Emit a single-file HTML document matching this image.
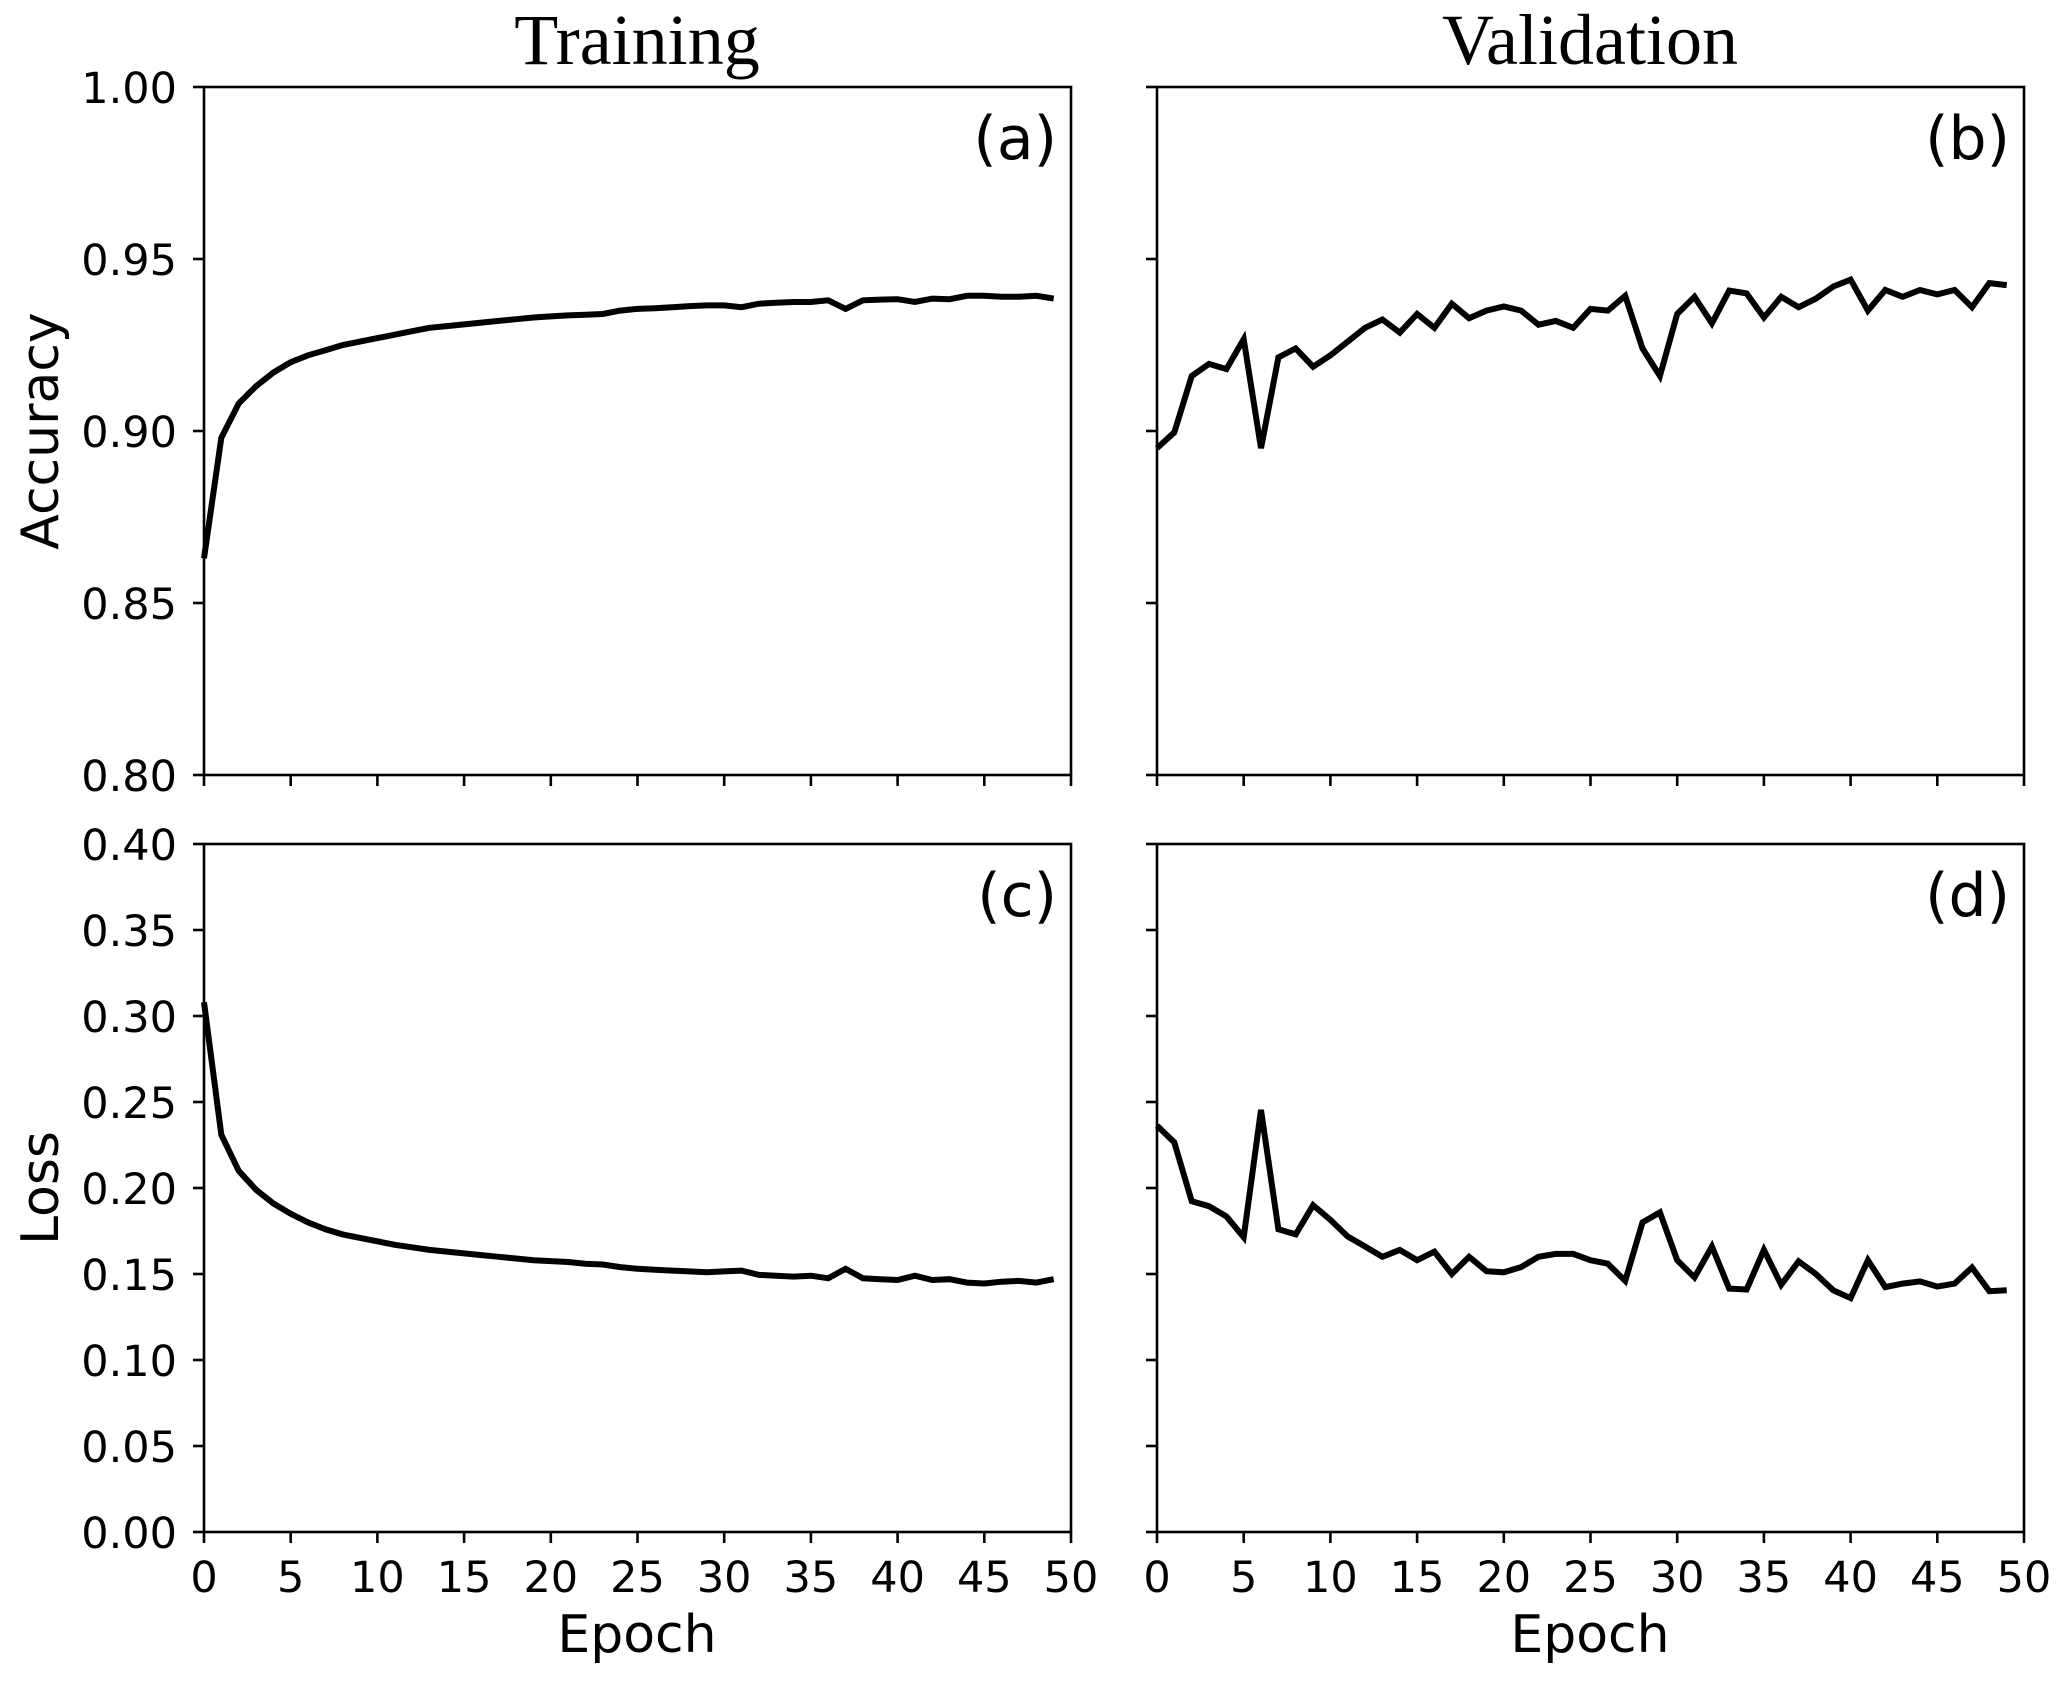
<!DOCTYPE html>
<html><head><meta charset="utf-8"><style>
html,body{margin:0;padding:0;background:#fff;}
svg{display:block;}
text{fill:#000;}
.tk{font-family:"DejaVu Sans","Liberation Sans",sans-serif;font-size:43px;}
.lb{font-family:"DejaVu Sans","Liberation Sans",sans-serif;font-size:52px;}
.pl{font-family:"DejaVu Sans","Liberation Sans",sans-serif;font-size:60px;}
.tt{font-family:"Liberation Serif",serif;font-size:72px;}
</style></head><body>
<svg id="fig" width="2067" height="1681" viewBox="0 0 2067 1681" xmlns="http://www.w3.org/2000/svg"></svg>
<script>
const epochs = Array.from({length:50},(_, i)=>i);
const trainAcc = [0.863,0.898,0.908,0.913,0.917,0.920,0.922,0.9235,0.925,0.926,0.927,0.928,0.929,0.930,0.9305,0.931,0.9315,0.932,0.9325,0.933,0.9333,0.9336,0.9338,0.934,0.935,0.9355,0.9357,0.936,0.9363,0.9365,0.9365,0.936,0.937,0.9373,0.9375,0.9375,0.938,0.9355,0.938,0.9382,0.9383,0.9375,0.9385,0.9383,0.9393,0.9393,0.939,0.939,0.9393,0.9385];
const valAcc = [0.895,0.8996,0.916,0.9195,0.918,0.9267,0.895,0.9214,0.924,0.9187,0.922,0.926,0.930,0.9324,0.9286,0.934,0.930,0.937,0.9328,0.935,0.9362,0.935,0.9309,0.932,0.930,0.9355,0.935,0.9393,0.924,0.916,0.934,0.939,0.9313,0.9408,0.940,0.933,0.939,0.936,0.9385,0.942,0.944,0.935,0.941,0.939,0.941,0.9397,0.941,0.936,0.943,0.9424];
const trainLoss = [0.308,0.231,0.21,0.199,0.191,0.185,0.180,0.176,0.173,0.171,0.169,0.167,0.1655,0.164,0.163,0.162,0.161,0.160,0.159,0.158,0.1575,0.157,0.156,0.1555,0.154,0.153,0.1525,0.152,0.1515,0.151,0.1515,0.152,0.1495,0.149,0.1485,0.149,0.1475,0.153,0.1475,0.147,0.1465,0.149,0.1465,0.147,0.145,0.1445,0.1455,0.146,0.145,0.147];
const valLoss = [0.2363,0.2265,0.1923,0.1894,0.1835,0.1714,0.2454,0.176,0.173,0.190,0.1815,0.1718,0.166,0.160,0.164,0.158,0.163,0.150,0.160,0.1516,0.151,0.154,0.160,0.1617,0.1617,0.158,0.156,0.146,0.180,0.1858,0.158,0.148,0.166,0.1415,0.141,0.164,0.1437,0.1574,0.150,0.1405,0.136,0.158,0.1424,0.1444,0.1457,0.1427,0.1444,0.1538,0.140,0.1405];
const xTicks = [0,5,10,15,20,25,30,35,40,45,50];
const accTicks = ["0.80","0.85","0.90","0.95","1.00"];
const lossTicks = ["0.00","0.05","0.10","0.15","0.20","0.25","0.30","0.35","0.40"];

const NS="http://www.w3.org/2000/svg";
const svg=document.getElementById('fig');
function mk(tag,attrs,parent,txt){const e=document.createElementNS(NS,tag);for(const k in attrs)e.setAttribute(k,attrs[k]);if(txt!==undefined)e.textContent=txt;(parent||svg).appendChild(e);return e;}

const cols=[{x0:204,x1:1071},{x0:1157,x1:2024}];
const rows=[{y0:87,y1:775,min:0.8,max:1.0,ticks:accTicks},{y0:844,y1:1532,min:0,max:0.4,ticks:lossTicks}];
const panels=[
 {r:0,c:0,data:trainAcc,tag:"(a)",name:"training-accuracy"},
 {r:0,c:1,data:valAcc,tag:"(b)",name:"validation-accuracy"},
 {r:1,c:0,data:trainLoss,tag:"(c)",name:"training-loss"},
 {r:1,c:1,data:valLoss,tag:"(d)",name:"validation-loss"}];

panels.forEach(p=>{
  const R=rows[p.r],C=cols[p.c];
  const xs=v=>C.x0+(v-0)/(50-0)*(C.x1-C.x0);
  const ys=v=>R.y1-(v-R.min)/(R.max-R.min)*(R.y1-R.y0);
  const g=mk('g',{});
  
  
  const d=epochs.map((e,i)=>(i?'L':'M')+xs(e).toFixed(1)+' '+ys(p.data[i]).toFixed(1)).join(' ');
  const path=mk('path',{d:d,fill:'none',stroke:'#000','stroke-width':6,'stroke-linejoin':'miter','stroke-linecap':'butt'},g);
  
  
  const fr=mk('rect',{x:C.x0,y:R.y0,width:C.x1-C.x0,height:R.y1-R.y0,fill:'none',stroke:'#000','stroke-width':2.6},g);
  
  
  xTicks.forEach(t=>{
    const x=xs(t);
    mk('line',{x1:x,x2:x,y1:R.y1,y2:R.y1+11,stroke:'#000','stroke-width':2.6},g);
    if(p.r===1){
      const tl=mk('text',{x:x,y:1592,'text-anchor':'middle',class:'tk'},g,String(t));
      
      
    }
  });
  R.ticks.forEach(s=>{
    const y=ys(parseFloat(s));
    mk('line',{x1:C.x0-11,x2:C.x0,y1:y,y2:y,stroke:'#000','stroke-width':2.6},g);
    if(p.c===0){
      const tl=mk('text',{x:177,y:y+16,'text-anchor':'end',class:'tk'},g,s);
      
      
    }
  });
  const pl=mk('text',{x:C.x1-14,y:R.y0+72,'text-anchor':'end',class:'pl'},g,p.tag);
  
  
});
</script>
<script>
(function(){
const s=document.getElementById('fig');
function t(attrs,txt,name){const e=document.createElementNS("http://www.w3.org/2000/svg",'text');for(const k in attrs)e.setAttribute(k,attrs[k]);e.textContent=txt;


s.appendChild(e);}
t({x:637,y:64,'text-anchor':'middle',class:'tt'},'Training','training-title');
t({x:1590,y:64,'text-anchor':'middle',class:'tt'},'Validation','validation-title');
t({x:58,y:431,'text-anchor':'middle',class:'lb',transform:'rotate(-90 58 431)'},'Accuracy','y-axis-title-accuracy');
t({x:58,y:1188,'text-anchor':'middle',class:'lb',transform:'rotate(-90 58 1188)'},'Loss','y-axis-title-loss');
t({x:637,y:1652,'text-anchor':'middle',class:'lb'},'Epoch','x-axis-title-training');
t({x:1590,y:1652,'text-anchor':'middle',class:'lb'},'Epoch','x-axis-title-validation');
})();
</script>
</body></html>
